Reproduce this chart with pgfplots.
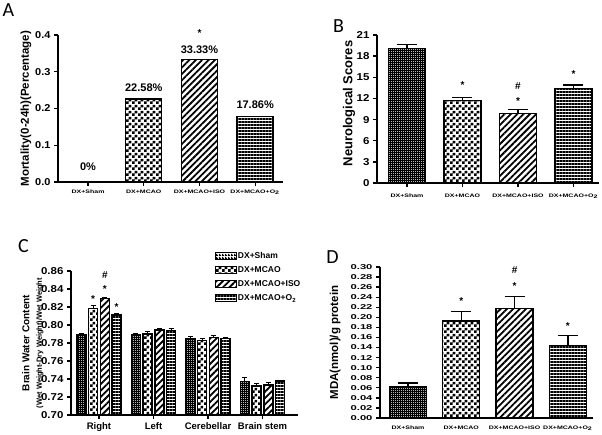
\documentclass[border=0pt]{standalone}
\usepackage{pgfplots}
\pgfplotsset{compat=1.18}
\usepackage{fontspec}
\setmainfont{Liberation Sans}
\newfontfamily\carlito{Carlito}
\usetikzlibrary{patterns,patterns.meta}
\usepackage{graphicx}

\pgfdeclarepatternformonly{mychecker}{\pgfpointorigin}{\pgfqpoint{6pt}{6pt}}{\pgfqpoint{6pt}{6pt}}{%
  \pgfpathrectangle{\pgfpointorigin}{\pgfqpoint{3pt}{3pt}}%
  \pgfpathrectangle{\pgfqpoint{3pt}{3pt}}{\pgfqpoint{3pt}{3pt}}%
  \pgfusepath{fill}}
\pgfdeclarepatternformonly{mygrid}{\pgfpointorigin}{\pgfqpoint{2.4pt}{2.4pt}}{\pgfqpoint{2.4pt}{2.4pt}}{%
  \pgfpathrectangle{\pgfpointorigin}{\pgfqpoint{2.4pt}{1.3pt}}%
  \pgfpathrectangle{\pgfpointorigin}{\pgfqpoint{1.3pt}{2.4pt}}%
  \pgfusepath{fill}}

\newcommand{\xl}[1]{\scalebox{1.4}[1]{\bfseries\fontsize{5}{6}\selectfont #1}}

\tikzset{
  ann/.style={font=\bfseries\fontsize{11}{11}\selectfont, inner sep=0pt},
  star/.style={font=\bfseries\fontsize{10}{10}\selectfont, inner sep=0pt, yshift=-2pt},
}
\pgfplotsset{
  panel/.style={scale only axis, anchor=south west,
    axis x line*=bottom, axis y line*=left,
    axis line style={line width=1.7pt},
    tick style={line width=1.3pt, black}, tick align=outside,
    major tick length=4pt, clip=false, ybar,
    xtick={0,1,2,3},
    error bars/y dir=plus, error bars/y explicit,
    error bars/error mark options={rotate=90, mark size=10pt, line width=1.4pt},
    error bars/error bar style={line width=1.4pt, black},
  },
  sham/.style={draw=black, line width=1.4pt, pattern=mygrid},
  mcao/.style={draw=black, line width=1.4pt, pattern=mychecker},
  iso/.style={draw=black, line width=1.4pt, pattern={Lines[angle=45,distance=4.5pt,line width=1.8pt]}},
  otwo/.style={draw=black, line width=1.4pt, pattern={Lines[angle=0,distance=3pt,line width=1.8pt]}},
  legimg/.style={legend image code/.code={\draw[##1,line width=0.8pt] (0pt,-3.5pt) rectangle (21pt,3.5pt);}},
}

\begin{document}
\begin{tikzpicture}
\path[use as bounding box] (0pt,0pt) rectangle (602pt,434pt);

% ---------------- Panel A ----------------
\begin{axis}[panel, at={(58pt,252pt)}, width=225pt, height=147pt,
  xmin=-0.54, xmax=3.5, ymin=0, ymax=0.4,
  ytick={0,0.1,0.2,0.3,0.4},
  yticklabel={\scalebox{1.1}[1]{\pgfmathprintnumber[fixed,fixed zerofill,precision=1,assume math mode=true]{\tick}}},
  yticklabel style={font=\bfseries\fontsize{10}{10}\selectfont},
  xticklabels={\xl{DX+Sham},\xl{DX+MCAO},\xl{DX+MCAO+ISO},\xl{DX+MCAO+O\textsubscript{2}}},
  ylabel={\bfseries\fontsize{11.5}{12}\selectfont Mortality(0-24h)(Percentage)},
  ylabel style={at={(axis description cs:-0.142,0.5)}, anchor=center},
  bar width=36pt]
\addplot[sham, bar shift=0pt] coordinates {(0,0)};
\addplot[mcao, bar shift=0pt] coordinates {(1,0.2258)};
\addplot[iso, bar shift=0pt] coordinates {(2,0.3333)};
\addplot[otwo, bar shift=0pt] coordinates {(3,0.1786)};
\node[ann] at (axis cs:0,0.041) {0\%};
\node[ann] at (axis cs:1,0.256) {22.58\%};
\node[ann] at (axis cs:2,0.359) {33.33\%};
\node[ann] at (axis cs:3,0.2095) {17.86\%};
\node[star] at (axis cs:2,0.411) {*};
\end{axis}

% ---------------- Panel B ----------------
\begin{axis}[panel, at={(377pt,251pt)}, width=222pt, height=148pt,
  xmin=-0.54, xmax=3.46, ymin=0, ymax=21,
  ytick={0,3,...,21},
  yticklabel={\scalebox{1.15}[1]{\pgfmathprintnumber[assume math mode=true]{\tick}}},
  yticklabel style={font=\bfseries\fontsize{10}{10}\selectfont},
  xticklabels={\xl{DX+Sham},\xl{DX+MCAO},\xl{DX+MCAO+ISO},\xl{DX+MCAO+O\textsubscript{2}}},
  xticklabel style={yshift=-3pt},
  ylabel={\bfseries\fontsize{13}{13}\selectfont Neurological Scores},
  ylabel style={at={(axis description cs:-0.126,0.537)}, anchor=center},
  bar width=37pt]
\addplot[sham, bar shift=0pt] coordinates {(0,19.11) +- (0,0.55)};
\addplot[mcao, bar shift=0pt] coordinates {(1,11.68) +- (0,0.48)};
\addplot[iso, bar shift=0pt] coordinates {(2,9.89) +- (0,0.55)};
\addplot[otwo, bar shift=0pt] coordinates {(3,13.43) +- (0,0.47)};
\node[star] at (axis cs:1,14.2) {*};
\node[star] at (axis cs:2,11.9) {*};
\node[star,yshift=2pt] at (axis cs:2,13.8) {\#};
\node[star] at (axis cs:3,15.7) {*};
\end{axis}

% ---------------- Panel C ----------------
\begin{axis}[panel, at={(71pt,19pt)}, width=227pt, height=144pt,
  ybar=2.7pt, bar width=9pt,
  xmin=-0.514, xmax=3.651, ymin=0.70, ymax=0.86,
  ytick={0.70,0.72,...,0.861},
  yticklabel={\scalebox{1.15}[1]{\pgfmathprintnumber[fixed,fixed zerofill,precision=2,assume math mode=true]{\tick}}},
  yticklabel style={font=\bfseries\fontsize{10}{10}\selectfont},
  xticklabels={Right,Left,Cerebellar,Brain stem},
  xticklabel style={font=\bfseries\fontsize{9.5}{10}\selectfont},
  ylabel={Brain Water Content\\{\fontsize{7.5}{9}\selectfont (Wet Weight-Dry Weight)/Wet Weight}},
  ylabel style={at={(axis description cs:-0.168,0.5)}, anchor=center, align=center,
    font=\bfseries\fontsize{10}{12.5}\selectfont},
  error bars/error mark options={rotate=90, mark size=2.5pt, line width=1pt},
  error bars/error bar style={line width=1pt, black},
  legend style={at={(axis description cs:0.621,1.153)}, anchor=north west, draw=none, fill=none,
    font=\bfseries\fontsize{8.5}{9}\selectfont, row sep=4pt,
    nodes={inner sep=1pt, text height=6.5pt, text depth=1.5pt}},
  legend cell align=left]
\addplot[sham, legimg] coordinates {(0,0.789) +- (0,0.002) (1,0.789) +- (0,0.0015) (2,0.7852) +- (0,0.002) (3,0.737) +- (0,0.005)};
\addplot[mcao, legimg] coordinates {(0,0.8186) +- (0,0.003) (1,0.790) +- (0,0.003) (2,0.7826) +- (0,0.002) (3,0.7322) +- (0,0.003)};
\addplot[iso, legimg] coordinates {(0,0.8296) +- (0,0.0015) (1,0.7944) +- (0,0.002) (2,0.7863) +- (0,0.002) (3,0.7333) +- (0,0.003)};
\addplot[otwo, legimg] coordinates {(0,0.811) +- (0,0.0015) (1,0.794) +- (0,0.002) (2,0.7852) +- (0,0.001) (3,0.7378) +- (0,0.001)};
\legend{DX+Sham,DX+MCAO,DX+MCAO+ISO,DX+MCAO+O\textsubscript{2}}
\node[star,xshift=-5.85pt] at (axis cs:0,0.8314) {*};
\node[star,xshift=5.85pt] at (axis cs:0,0.8426) {*};
\node[star,xshift=5.85pt,yshift=2pt] at (axis cs:0,0.8556) {\#};
\node[star,xshift=17.55pt] at (axis cs:0,0.8222) {*};
\end{axis}

% ---------------- Panel D ----------------
\begin{axis}[panel, at={(380pt,16pt)}, width=213pt, height=151pt,
  xmin=-0.525, xmax=3.471, ymin=0, ymax=0.30,
  ytick={0,0.02,...,0.301},
  yticklabel={\scalebox{1.4}[0.88]{\pgfmathprintnumber[fixed,fixed zerofill,precision=2,assume math mode=true]{\tick}}},
  yticklabel style={font=\bfseries\fontsize{8}{8}\selectfont},
  xticklabels={\xl{DX+Sham},\xl{DX+MCAO},\xl{DX+MCAO+ISO},\xl{DX+MCAO+O\textsubscript{2}}},
  xtick style={draw=none},
  ylabel={\bfseries\fontsize{11.5}{12}\selectfont MDA(nmol)/g protein},
  ylabel style={at={(axis description cs:-0.211,0.5)}, anchor=center},
  bar width=37pt]
\addplot[sham, bar shift=0pt] coordinates {(0,0.0616) +- (0,0.008)};
\addplot[mcao, bar shift=0pt] coordinates {(1,0.193) +- (0,0.018)};
\addplot[iso, bar shift=0pt] coordinates {(2,0.217) +- (0,0.024)};
\addplot[otwo, bar shift=0pt] coordinates {(3,0.1444) +- (0,0.019)};
\node[star] at (axis cs:1,0.237) {*};
\node[star] at (axis cs:2,0.267) {*};
\node[star,yshift=2pt] at (axis cs:2,0.293) {\#};
\node[star] at (axis cs:3,0.186) {*};
\end{axis}

% panel letters
\node[font=\carlito\fontsize{20}{20}\selectfont, inner sep=0pt] at (8.5pt,423.5pt) {A};
\node[font=\carlito\fontsize{20}{20}\selectfont, inner sep=0pt] at (338.5pt,408pt) {B};
\node[font=\carlito\fontsize{20}{20}\selectfont, inner sep=0pt] at (23.5pt,187.5pt) {C};
\node[font=\carlito\fontsize{20}{20}\selectfont, inner sep=0pt] at (332.5pt,177pt) {D};
\end{tikzpicture}
\end{document}
